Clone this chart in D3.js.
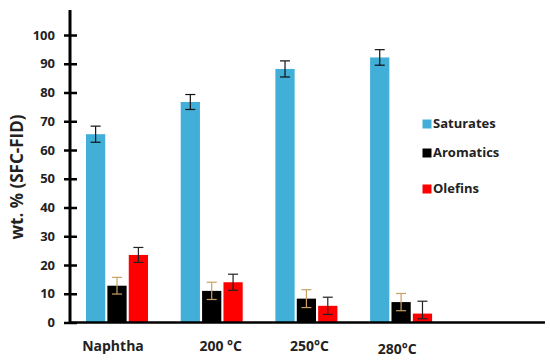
<!DOCTYPE html>
<html>
<head>
<meta charset="utf-8">
<script src="https://cdn.jsdelivr.net/npm/d3@7"></script>
<style>
body { margin: 0; background: #fff; }
text { font-family: "Open Sans", sans-serif; font-weight: bold; fill: #222; }
</style>
</head>
<body>
<div id="chart"></div>
<script>
const w = 550;
const h = 364;

// data
const categories = ["Naphtha", "200  \u00b0C", "250\u00b0C", "280\u00b0C"];
const series = ["Saturates", "Aromatics", "Olefins"];
const saturates = [65.5, 76.7, 88.2, 92.2];
const saturatesErr = [2.8, 2.6, 2.8, 2.7];
const aromatics = [12.8, 11.0, 8.3, 7.1];
const aromaticsErr = [2.9, 3.0, 3.1, 3.0];
const olefins = [23.5, 14.0, 5.8, 3.1];
const olefinsErr = [2.6, 2.8, 3.0, 4.3];
const olefinsErrLow = [2.6, 2.8, 3.0, 1.8];
const yTicks = [0, 10, 20, 30, 40, 50, 60, 70, 80, 90, 100];

const colors = ["#41afd7", "#000000", "#ff0000"];
const errColors = ["#111111", "#c9a063", "#222222"];
const values = [saturates, aromatics, olefins];
const errHigh = [saturatesErr, aromaticsErr, olefinsErr];
const errLow = [saturatesErr, aromaticsErr, olefinsErrLow];

const xAxisX = 70;
const yBase = 322.5;

const svg = d3.select("#chart")
  .append("svg")
  .attr("width", w)
  .attr("height", h);

const y = d3.scaleLinear().domain([0, 108.7]).range([yBase, 10]);

const x = d3.scaleBand()
  .domain(categories)
  .range([86, 86 + 4 * 94.7])
  .padding(0);

const xSub = d3.scaleBand()
  .domain(series)
  .range([0, 62])
  .paddingInner(0.1);

// bars
series.forEach((s, si) => {
  const g = svg.append("g").attr("class", "series");
  g.selectAll("rect")
    .data(categories)
    .enter().append("rect")
    .attr("x", d => x(d) + xSub(s))
    .attr("y", (d, i) => y(values[si][i]))
    .attr("width", xSub.bandwidth())
    .attr("height", (d, i) => yBase - y(values[si][i]))
    .attr("fill", colors[si]);

  //error bars
  const eb = g.selectAll(".err")
    .data(categories)
    .enter().append("g")
    .attr("stroke", errColors[si])
    .attr("stroke-width", 1.2);
  const cx = d => x(d) + xSub(s) + xSub.bandwidth() / 2;
  const top = (d, i) => y(values[si][i] + errHigh[si][i]);
  const bot = (d, i) => y(values[si][i] - errLow[si][i]);
  eb.append("line")
    .attr("x1", cx).attr("x2", cx)
    .attr("y1", top)
    .attr("y2", bot);
  eb.append("line")
    .attr("x1", d => cx(d) - 5).attr("x2", d => cx(d) + 5)
    .attr("y1", top).attr("y2", top);
  eb.append("line")
    .attr("x1", d => cx(d) - 5).attr("x2", d => cx(d) + 5)
    .attr("y1", bot).attr("y2", bot);
});

// y axis
const yAxis = svg.append("g")
  .attr("transform", `translate(${xAxisX},0)`)
  .call(d3.axisLeft(y).tickValues(yTicks).tickSize(6).tickPadding(9));
yAxis.select(".domain").remove();
yAxis.append("line")
  .attr("x1", 0).attr("x2", 0)
  .attr("y1", y.range()[1]).attr("y2", yBase + 1)
  .attr("stroke", "#000").attr("stroke-width", 3);
yAxis.selectAll(".tick line")
  .attr("x1", -6).attr("x2", 7)
  .attr("stroke", "#000").attr("stroke-width", 2.5);
yAxis.selectAll(".tick text")
  .style("font-size", "13px")
  .attr("fill", "#222");

// x baseline
svg.append("line")
  .attr("x1", xAxisX).attr("x2", 545)
  .attr("y1", yBase).attr("y2", yBase)
  .attr("stroke", "#000").attr("stroke-width", 2.5);

// category labels
const labelShift = [-4, 9, 3, -4];
const labelDy = [0, 0, 0, 3];
svg.append("g").selectAll("text")
  .data(categories)
  .enter().append("text")
  .attr("x", (d, i) => x(d) + 31 + labelShift[i])
  .attr("y", (d, i) => 351 + labelDy[i])
  .attr("text-anchor", "middle")
  .style("font-size", "14px")
  .text(d => d);

// y title
svg.append("text")
  .attr("transform", "translate(23,177) rotate(-90)")
  .attr("text-anchor", "middle")
  .style("font-size", "17px")
  .text("wt. % (SFC-FID)");

// legend
const legY = [128, 157, 193];
const legend = svg.append("g").attr("id", "legend");
series.forEach((s, i) => {
  legend.append("rect")
    .attr("x", 422.5).attr("y", legY[i] - 8.5)
    .attr("width", 9).attr("height", 9)
    .attr("fill", colors[i]);
  legend.append("text")
    .attr("x", 433).attr("y", legY[i])
    .style("font-size", "13px")
    .text(s);
});
</script>
</body>
</html>
